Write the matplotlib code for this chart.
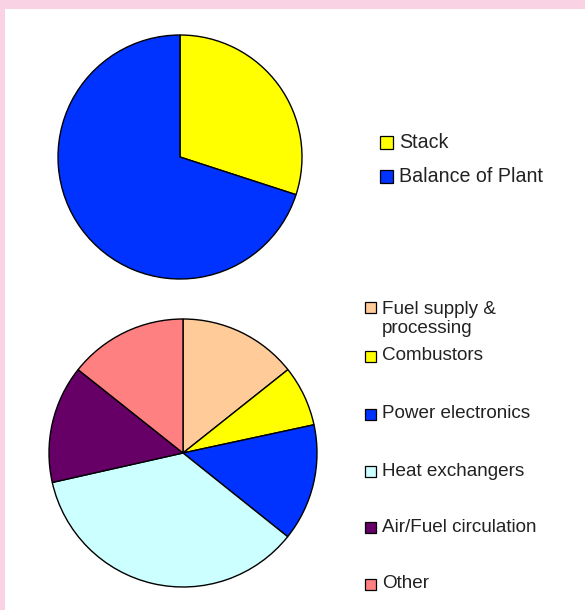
import matplotlib.pyplot as plt
from matplotlib.patches import Rectangle

plt.rcParams['font.family'] = ['Liberation Sans', 'DejaVu Sans']

# Top pie: stack vs balance of plant (% of cost)
top_labels = ['Stack', 'Balance of Plant']
top_values = [30, 70]
top_colors = ['#FFFF00', '#0033FF']

# Bottom pie: balance of plant breakdown (% of cost)
bot_labels = ['Fuel supply &\nprocessing', 'Combustors', 'Power electronics',
              'Heat exchangers', 'Air/Fuel circulation', 'Other']
bot_values = [14.3, 7.3, 14.1, 35.7, 14.2, 14.3]
bot_colors = ['#FFCC99', '#FFFF00', '#0033FF', '#CCFFFF', '#660066', '#FF8080']

W, H = 585, 610
fig = plt.figure(figsize=(W / 100, H / 100), dpi=100)
fig.patch.set_facecolor('#F9D3E3')
ax = fig.add_axes([0, 0, 1, 1])

# white panel
ax.add_patch(Rectangle((5, 0), W - 5, H - 9, facecolor='white', edgecolor='none', zorder=0))

wedge = dict(edgecolor='black', linewidth=1.0)
ax.pie(top_values, colors=top_colors, startangle=90, counterclock=False,
       center=(180, H - 157), radius=122, frame=True, wedgeprops=wedge)
ax.pie(bot_values, colors=bot_colors, startangle=90, counterclock=False,
       center=(183, H - 453), radius=134, frame=True, wedgeprops=wedge)
ax.set_xlim(0, W)
ax.set_ylim(0, H)
ax.set_aspect('auto')
ax.axis('off')


def legend_item(x, y, size, color, label, fs):
    ax.add_patch(Rectangle((x, H - y - size / 2), size, size, facecolor=color,
                           edgecolor='black', linewidth=0.9, zorder=3))
    if '\n' in label:
        ax.text(x + size + 6, H - y + 7, label, fontsize=fs, color='#222222',
                va='top', ha='left', linespacing=1.2)
    else:
        ax.text(x + size + 6, H - y, label, fontsize=fs, color='#222222',
                va='center', ha='left')


top_y = [142.5, 176.5]
for lab, col, y in zip(top_labels, top_colors, top_y):
    legend_item(380, y, 13, col, lab, 14.1)

bot_y = [307.5, 356, 414, 471, 527.5, 584]
for lab, col, y in zip(bot_labels, bot_colors, bot_y):
    legend_item(365, y, 11, col, lab, 13.6)

fig.savefig('out.png', dpi=100, facecolor=fig.get_facecolor())
